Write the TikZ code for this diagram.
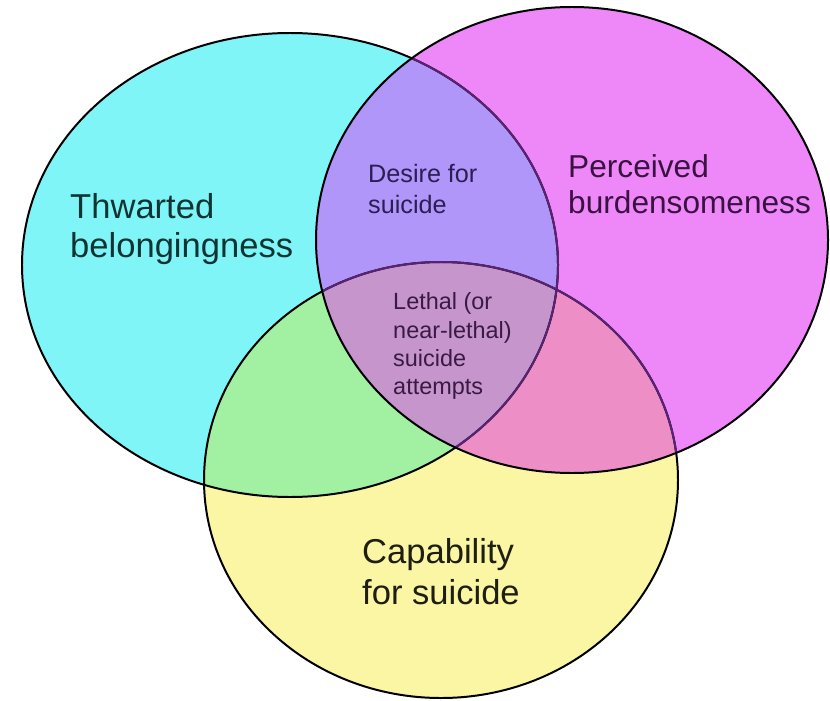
\documentclass[tikz,border=0pt]{standalone}
\usepackage{fontspec}
\setmainfont{Liberation Sans}
\definecolor{tbfill}{HTML}{80F5F8}
\definecolor{pbfill}{HTML}{EE88F8}
\definecolor{capfill}{HTML}{FAF6A4}
\definecolor{desirefill}{HTML}{B096F8}
\definecolor{greenfill}{HTML}{A2F0A2}
\definecolor{pinkfill}{HTML}{EE8EC6}
\definecolor{lethalfill}{HTML}{C595CB}
\definecolor{tintline}{HTML}{5A2274}
\begin{document}
\begin{tikzpicture}[x=0.3mm, y=-0.3mm,
	outline/.style={line width=1.7pt},
	biglabel/.style={align=left, inner sep=0pt, anchor=west, font=\fontsize{29.5}{34}\selectfont},
	smalllabel/.style={align=left, inner sep=0pt, anchor=west, font=\fontsize{20}{25}\selectfont}]
	\useasboundingbox (0,0) rectangle (830,701);

	\fill[tbfill] (290,265) ellipse [x radius=268, y radius=232];
	\fill[pbfill] (572,240) ellipse [x radius=256, y radius=233];
	\fill[capfill] (441,480) ellipse [x radius=237, y radius=218];

	\begin{scope}
		\clip (572,240) ellipse [x radius=256, y radius=233];
		\fill[pinkfill] (441,480) ellipse [x radius=237, y radius=218];
	\end{scope}
	\begin{scope}
		\clip (290,265) ellipse [x radius=268, y radius=232];
		\fill[desirefill] (572,240) ellipse [x radius=256, y radius=233];
		\fill[greenfill] (441,480) ellipse [x radius=237, y radius=218];
		\clip (572,240) ellipse [x radius=256, y radius=233];
		\fill[lethalfill] (441,480) ellipse [x radius=237, y radius=218];
	\end{scope}

	\draw[outline] (290,265) ellipse [x radius=268, y radius=232];
	\draw[outline] (441,480) ellipse [x radius=237, y radius=218];
	\begin{scope}
		\clip (572,240) ellipse [x radius=256, y radius=233];
		\draw[outline, tintline] (290,265) ellipse [x radius=268, y radius=232];
		\draw[outline, tintline] (441,480) ellipse [x radius=237, y radius=218];
	\end{scope}
	\draw[outline] (572,240) ellipse [x radius=256, y radius=233];

	\node[biglabel, text={rgb,255:red,16;green,52;blue,52}] (tb) at (70,229) {Thwarted\\belongingness};
	\node[biglabel, text={rgb,255:red,58;green,18;blue,66}, font=\fontsize{27}{30.5}\selectfont] (pb) at (568,184) {Perceived\\burdensomeness};
	\node[biglabel, text={rgb,255:red,30;green,30;blue,18}, font=\fontsize{29.5}{35}\selectfont] (cap) at (362,572) {Capability\\for suicide};
	\node[smalllabel, text={rgb,255:red,42;green,30;blue,85}, font=\fontsize{21.5}{27}\selectfont] (desire) at (368,189) {Desire for\\suicide};
	\node[smalllabel, text={rgb,255:red,58;green,26;blue,69}, font=\fontsize{20}{24}\selectfont] (lethal) at (393,346) {Lethal (or\\near-lethal)\\suicide\\attempts};
\end{tikzpicture}
\end{document}
